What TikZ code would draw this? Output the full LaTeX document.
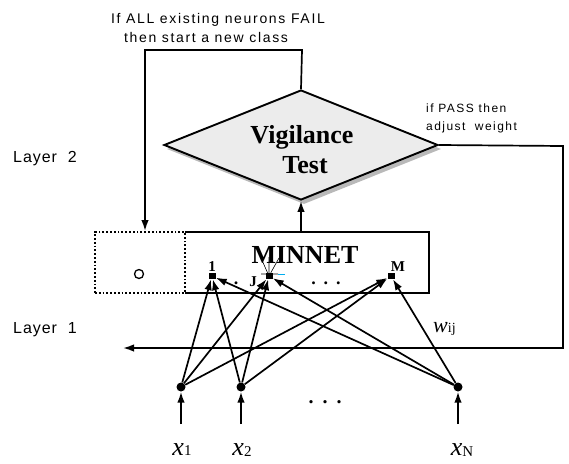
\documentclass[tikz,border=0pt]{standalone}
\usepackage{fontspec}
\setmainfont{Liberation Serif}
\newfontfamily\arialsp[LetterSpace=12]{Liberation Sans}
\newfontfamily\arialsq[LetterSpace=6]{Liberation Sans}
\usetikzlibrary{shapes.geometric,arrows.meta}
\begin{document}
\begin{tikzpicture}[x=1pt,y=-1pt,
  arr/.style={-{Latex[length=11pt,width=7.5pt]}, line width=1.7pt},
  ln/.style={line width=1.7pt},
  sanslbl/.style={font=\arialsp\fontsize{14}{16}\selectfont, inner sep=0, anchor=base},
  smalllbl/.style={font=\arialsp\fontsize{12}{14}\selectfont, inner sep=0, anchor=base west},
  layerlbl/.style={font=\arialsq\fontsize{16}{18}\selectfont, inner sep=0, anchor=base west},
  bigbold/.style={font=\bfseries\fontsize{26}{26}\selectfont, inner sep=0, anchor=base},
  neurlbl/.style={font=\bfseries\fontsize{15}{15}\selectfont, inner sep=0, anchor=base},
  dotlbl/.style={font=\bfseries\fontsize{18}{18}\selectfont, inner sep=0, anchor=base},
  outn/.style={fill, minimum width=7pt, minimum height=6pt, inner sep=0},
  inn/.style={circle, fill, minimum size=9pt, inner sep=0},
  dia/.style={diamond, minimum width=274pt, minimum height=110pt, inner sep=0},
  xlbl/.style={inner sep=0, anchor=base}
]
\useasboundingbox (0,0) rectangle (569,463);

% top annotation
\node[sanslbl] (t1) at (218,23) {If ALL existing neurons FAIL};
\node[sanslbl] (t2) at (206,42) {then start a new class};

% vigilance diamond with shadow
\node[dia, fill=gray!55] (vts) at (304,149) {};
\node[dia, draw, fill=gray!15, line width=1.9pt] (vt) at (301,145) {};
\node[bigbold] (vtl1) at (302,143) {Vigilance};
\node[bigbold] (vtl2) at (305,173) {Test};

% pass annotation
\node[smalllbl] (p1) at (426,112) {if PASS then};
\node[smalllbl] (p2) at (426,130) {adjust \ weight};

% layer labels
\node[layerlbl] (l2) at (13,162) {Layer \ 2};
\node[layerlbl] (l1) at (13,333) {Layer \ 1};

% MINNET box
\node[minimum width=244pt, minimum height=61pt, inner sep=0] (mn) at (307,262.5) {};
\draw[ln] (mn.north west) -- (mn.north east) -- (mn.south east) -- (mn.south west);
\node[bigbold] (mnl) at (305,263) {MINNET};

% new-class (dotted) box
\node[draw, dash pattern=on 1.8pt off 2pt, line width=2pt, minimum width=90pt, minimum height=61pt, inner sep=0] (nb) at (140,262.5) {};
\node[circle, draw, line width=1.3pt, minimum size=9pt, inner sep=0] (nc) at (139,274) {};

% feedback: FAIL
\coordinate (fa) at (302,50);
\coordinate (fb) at (145,50);
\draw[arr] (vt.north) -- (fa) -- (fb) -- (fb |- nb.north);

% MINNET to vigilance
\draw[arr] (vt.south |- mn.north) -- (vt.south);

% feedback: PASS
\coordinate (pa) at (563,146);
\coordinate (pb) at (563,348);
\coordinate (pc) at (123,348);
\draw[arr] (vt.east) -- (pa) -- (pb) -- (pc);

% output neurons
\node[outn] (o1) at (212,276) {};
\node[outn] (oJ) at (269,276) {};
\node[outn] (oM) at (391,276) {};
\node[neurlbl] (o1l) at (212,271) {1};
\node[neurlbl] (oJl) at (253,286) {J};
\node[neurlbl] (oMl) at (398,271) {M};
\node[dotlbl] (od1) at (236,284) {.};
\node[dotlbl] (od2) at (326,284) {.\hspace{8pt}.\hspace{8pt}.};

% small artefact strokes at J
\coordinate (sa) at (261,258);
\coordinate (sb) at (269,257);
\coordinate (sc) at (279,258);
\coordinate (sd) at (261,274);
\coordinate (se) at (278,274);
\coordinate (sf) at (285,274);
\draw[line width=0.6pt] (oJ) -- (sa) (oJ) -- (sb) (oJ) -- (sc) (sd) -- (se);
\draw[cyan, line width=0.7pt] (se) -- (sf);

% input neurons
\node[inn] (i1) at (181,387) {};
\node[inn] (i2) at (241,387) {};
\node[inn] (iN) at (458,387) {};
\coordinate (a1) at (181,424);
\coordinate (a2) at (241,424);
\coordinate (aN) at (458,424);
\draw[arr] (a1) -- (i1);
\draw[arr] (a2) -- (i2);
\draw[arr] (aN) -- (iN);
\node[dotlbl, font=\bfseries\fontsize{20}{20}\selectfont] (id) at (325,403) {.\hspace{9pt}.\hspace{9pt}.};

% weights
\foreach \a in {i1,i2,iN}
  \foreach \b in {o1,oJ,oM}
    \draw[arr] (\a) -- (\b);

% input labels
\node[xlbl] (x1) at (182,455) {\fontsize{26}{26}\selectfont\itshape x\upshape\fontsize{15}{15}\selectfont 1};
\node[xlbl] (x2) at (242,455) {\fontsize{26}{26}\selectfont\itshape x\upshape\fontsize{15}{15}\selectfont\raisebox{-1.5pt}{2}};
\node[xlbl] (xN) at (462,455) {\fontsize{26}{26}\selectfont\itshape x\upshape\fontsize{15}{15}\selectfont\raisebox{-1.5pt}{N}};
\node[xlbl, anchor=base west] (w) at (433,332) {\fontsize{22}{22}\selectfont\itshape w\upshape\fontsize{14}{14}\selectfont ij};
\end{tikzpicture}
\end{document}
